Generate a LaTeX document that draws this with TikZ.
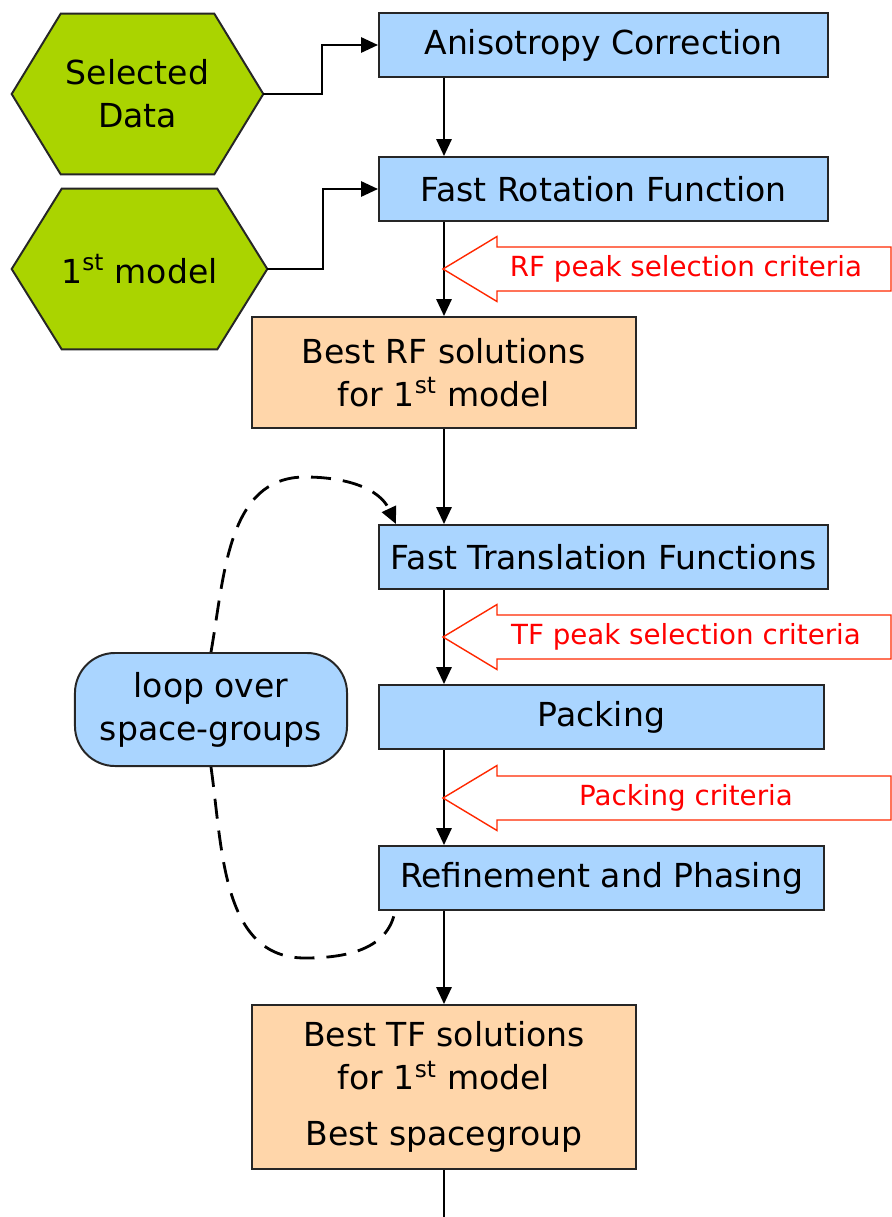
\documentclass[tikz,border=0pt]{standalone}
\usepackage{fontspec}
\setmainfont{DejaVu Sans}
\usepackage{xcolor}
\usepackage{tikz}
\usetikzlibrary{arrows.meta, calc, backgrounds}

\definecolor{stepblue}{RGB}{170,213,255}
\definecolor{resorange}{RGB}{255,214,170}
\definecolor{inputgreen}{RGB}{170,212,0}
\definecolor{critred}{RGB}{255,40,0}

\begin{document}
\begin{tikzpicture}[
    x=0.025cm, y=-0.025cm,
    font=\fontsize{23.5}{30.5}\selectfont,
    stepbox/.style={draw=black!85, line width=1.4pt, fill=stepblue, minimum width=11.225cm, minimum height=1.6cm, inner sep=0pt, align=center},
    resbox/.style={draw=black!85, line width=1.4pt, fill=resorange, minimum width=9.6cm, inner sep=0pt, align=center},
    hexlabel/.style={minimum height=4cm, inner sep=0pt, align=center},
    hexagon/.style={draw=black!85, line width=1.4pt, fill=inputgreen},
    loopbox/.style={draw=black!85, line width=1.4pt, fill=stepblue, rounded corners=1cm, minimum width=6.8cm, minimum height=2.825cm, inner sep=0pt, align=center},
    arrow/.style={-{Triangle[length=0.42cm, width=0.38cm]}, line width=1.4pt},
    loopline/.style={line width=2pt, dash pattern=on 0.5cm off 0.3cm},
    critarrow/.style={draw=critred, line width=1pt, fill=white},
    crit/.style={text=red, font=\fontsize{19.7}{24}\selectfont}
]
    \useasboundingbox (0,0) rectangle (892,1217);

    % inputs
    \node[hexlabel, minimum width=6.275cm] (selected) at (137.5,94) {Selected\\Data};
    \node[hexlabel, minimum width=6.375cm] (model) at (139.5,269) {1\textsuperscript{st} model};
    \begin{scope}[on background layer]
        \foreach \n/\c in {selected/49, model/50}
            \draw[hexagon] (\n.west) -- ($(\n.north west)+(\c,0)$) -- ($(\n.north east)-(\c,0)$) -- (\n.east)
                -- ($(\n.south east)-(\c,0)$) -- ($(\n.south west)+(\c,0)$) -- cycle;
    \end{scope}

    % main flow
    \node[stepbox] (aniso) at (603.5,45) {Anisotropy Correction};
    \node[stepbox] (fastrot) at (603.5,189) {Fast Rotation Function};
    \node[resbox, minimum height=2.775cm] (bestrf) at (444,372.5) {Best RF solutions\\for 1\textsuperscript{st} model};
    \node[stepbox] (fasttrans) at (603.5,557) {Fast Translation Functions};
    \node[stepbox, minimum width=11.125cm] (packing) at (601.5,717) {Packing};
    \node[stepbox, minimum width=11.125cm] (refine) at (601.5,878) {Refinement and Phasing};
    \node[resbox, minimum height=4.1cm] (besttf) at (444,1087) {Best TF solutions\\for 1\textsuperscript{st} model\\[9pt]Best spacegroup};
    \node[loopbox] (loop) at (211,709.5) {loop over\\space-groups};
    \coordinate (tail) at (444,1217);

    \draw[arrow] (selected.east) -- ++(59,0) |- (aniso.west);
    \draw[arrow] (model.east) -- ++(56,0) |- (fastrot.west);
    \draw[arrow] (aniso.south -| bestrf) -- (fastrot.north -| bestrf);
    \draw[arrow] (fastrot.south -| bestrf) -- (bestrf.north);
    \draw[arrow] (bestrf.south) -- (fasttrans.north -| bestrf);
    \draw[arrow] (fasttrans.south -| bestrf) -- (packing.north -| bestrf);
    \draw[arrow] (packing.south -| bestrf) -- (refine.north -| bestrf);
    \draw[arrow] (refine.south -| bestrf) -- (besttf.north);
    \draw[line width=1.4pt] (besttf.south) -- (tail);

    % selection criteria
    \foreach \yc/\txt/\nm in {269/RF peak selection criteria/rfcrit, 637/TF peak selection criteria/tfcrit, 798/Packing criteria/packcrit}{
        \draw[critarrow] (443,\yc) -- (497,\yc-32.5) -- (497,\yc-22) -- (891,\yc-22) -- (891,\yc+22) -- (497,\yc+22) -- (497,\yc+32.5) -- cycle;
        \node[crit] (\nm) at (686,\yc) {\txt};
    }

    % space-group loop
    \draw[loopline, -{Triangle[length=0.42cm, width=0.38cm]}] (loop.north) to[out=80, in=180] (305,477) to[out=0, in=115] ($(fasttrans.north west)+(18,0)$);
    \draw[loopline] (loop.south) to[out=-82, in=180] (305,958) to[out=0, in=-100] ($(refine.south west)+(17,0)$);
\end{tikzpicture}
\end{document}
